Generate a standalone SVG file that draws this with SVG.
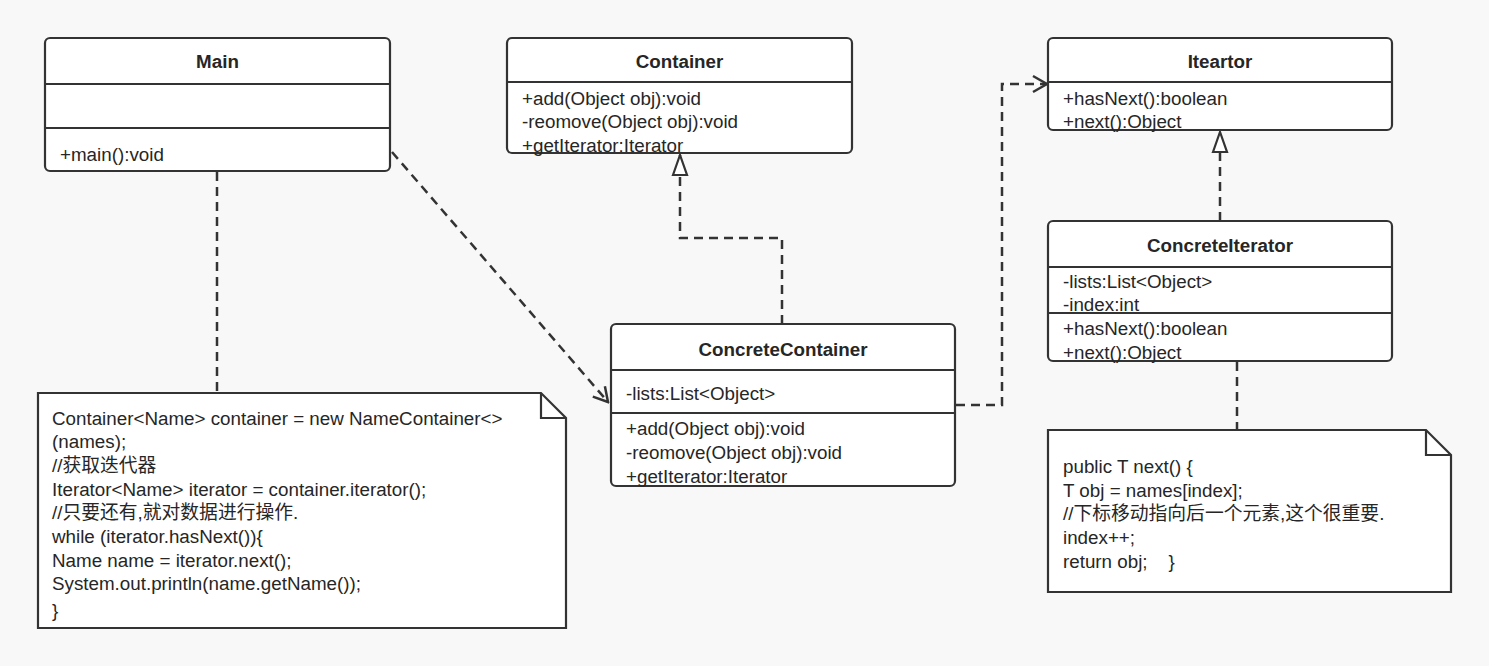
<svg xmlns="http://www.w3.org/2000/svg" width="1489" height="666" viewBox="0 0 1489 666">
<defs>
<style>
.bg{fill:#f8f8f8}
.box{fill:#fff;stroke:#333;stroke-width:2.2}
.div{stroke:#333;stroke-width:2.2}
.t{font-family:"Liberation Sans","Noto Sans CJK SC",sans-serif;font-size:18.8px;fill:#262626}
.b{font-weight:bold;text-anchor:middle}
.c{fill:none;stroke:#333;stroke-width:2.5;stroke-dasharray:9 6}
</style>
<marker id="open" markerWidth="20" markerHeight="20" viewBox="0 0 20 20" refX="18" refY="10" orient="auto" markerUnits="userSpaceOnUse">
<path d="M4,2 L18,10 L4,18" fill="none" stroke="#333" stroke-width="2.5"/>
</marker>
<marker id="tri" markerWidth="24" markerHeight="20" viewBox="0 0 24 20" refX="22" refY="10" orient="auto" markerUnits="userSpaceOnUse">
<path d="M2,3 L22,10 L2,17 Z" fill="#fff" stroke="#333" stroke-width="2.2"/>
</marker>
</defs>
<rect class="bg" x="0" y="0" width="1489" height="666"/>
<g id="connectors">
<path class="c" d="M217,172 L217,393"/>
<path class="c" d="M392,152 L608,402" marker-end="url(#open)"/>
<path class="c" d="M782,324 L782,238 L680,238 L680,155" marker-end="url(#tri)"/>
<path class="c" d="M956,405 L1002,405 L1002,84 L1047,84" marker-end="url(#open)"/>
<path class="c" d="M1220,221 L1220,132" marker-end="url(#tri)"/>
<path class="c" d="M1237,362 L1237,430"/>
</g>
<g id="Main">
<rect class="box" x="45" y="38" width="345" height="133" rx="5"/>
<line class="div" x1="45" y1="84" x2="390" y2="84"/>
<line class="div" x1="45" y1="128" x2="390" y2="128"/>
<text class="t b" x="217.5" y="68">Main</text>
<text class="t" x="60" y="161">+main():void</text>
</g>
<g id="Container">
<rect class="box" x="507" y="38" width="345" height="115" rx="5"/>
<line class="div" x1="507" y1="82" x2="852" y2="82"/>
<text class="t b" x="679.5" y="68">Container</text>
<text class="t" x="522" y="105">+add(Object obj):void</text>
<text class="t" x="522" y="128">-reomove(Object obj):void</text>
<text class="t" x="522" y="152">+getIterator:Iterator</text>
</g>
<g id="Iteartor">
<rect class="box" x="1048" y="38" width="344" height="92" rx="5"/>
<line class="div" x1="1048" y1="82" x2="1392" y2="82"/>
<text class="t b" x="1220" y="68">Iteartor</text>
<text class="t" x="1063" y="105">+hasNext():boolean</text>
<text class="t" x="1063" y="128">+next():Object</text>
</g>
<g id="ConcreteContainer">
<rect class="box" x="611" y="324" width="344" height="162" rx="5"/>
<line class="div" x1="611" y1="370" x2="955" y2="370"/>
<line class="div" x1="611" y1="413" x2="955" y2="413"/>
<text class="t b" x="783" y="356">ConcreteContainer</text>
<text class="t" x="626" y="400">-lists:List&lt;Object&gt;</text>
<text class="t" x="626" y="435">+add(Object obj):void</text>
<text class="t" x="626" y="459">-reomove(Object obj):void</text>
<text class="t" x="626" y="483">+getIterator:Iterator</text>
</g>
<g id="ConcreteIterator">
<rect class="box" x="1048" y="221" width="344" height="140" rx="5"/>
<line class="div" x1="1048" y1="267" x2="1392" y2="267"/>
<line class="div" x1="1048" y1="313" x2="1392" y2="313"/>
<text class="t b" x="1220" y="252">ConcreteIterator</text>
<text class="t" x="1063" y="288">-lists:List&lt;Object&gt;</text>
<text class="t" x="1063" y="311">-index:int</text>
<text class="t" x="1063" y="335">+hasNext():boolean</text>
<text class="t" x="1063" y="359">+next():Object</text>
</g>
<g id="note1">
<path class="box" d="M38,393 L541,393 L566,418 L566,628 L38,628 Z"/>
<path d="M541,393 L541,418 L566,418" fill="none" stroke="#333" stroke-width="2.2"/>
<text class="t" x="52" y="425">Container&lt;Name&gt; container = new NameContainer&lt;&gt;</text>
<text class="t" x="52" y="448">(names);</text>
<text class="t" x="52" y="472">//获取迭代器</text>
<text class="t" x="52" y="496">Iterator&lt;Name&gt; iterator = container.iterator();</text>
<text class="t" x="52" y="519">//只要还有,就对数据进行操作.</text>
<text class="t" x="52" y="543">while (iterator.hasNext()){</text>
<text class="t" x="52" y="567">Name name = iterator.next();</text>
<text class="t" x="52" y="590">System.out.println(name.getName());</text>
<text class="t" x="52" y="617">}</text>
</g>
<g id="note2">
<path class="box" d="M1048,430 L1426,430 L1451,455 L1451,592 L1048,592 Z"/>
<path d="M1426,430 L1426,455 L1451,455" fill="none" stroke="#333" stroke-width="2.2"/>
<text class="t" x="1063" y="473">public T next() {</text>
<text class="t" x="1063" y="497">T obj = names[index];</text>
<text class="t" x="1063" y="520">//下标移动指向后一个元素,这个很重要.</text>
<text class="t" x="1063" y="544">index++;</text>
<text class="t" x="1063" y="568" xml:space="preserve">return obj;    }</text>
</g>
</svg>
